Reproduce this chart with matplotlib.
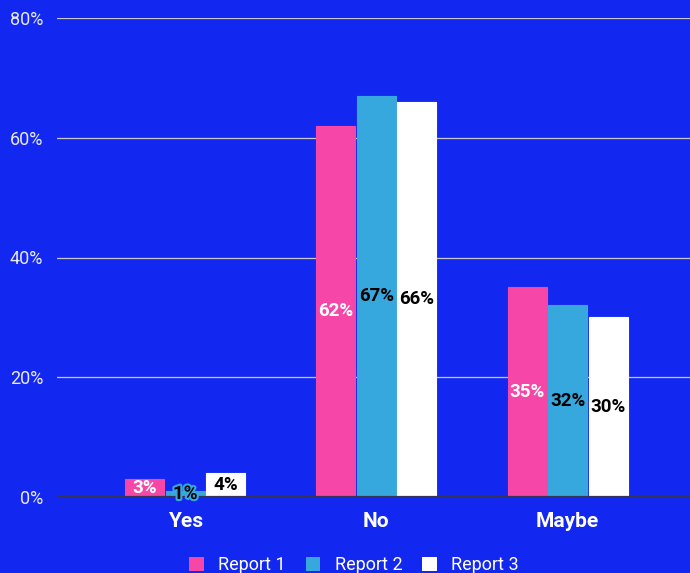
import matplotlib
matplotlib.use("Agg")
import matplotlib.pyplot as plt
import matplotlib.patheffects as pe
import numpy as np

categories = ["Yes", "No", "Maybe"]
series_names = ["Report 1", "Report 2", "Report 3"]
report1 = [3, 62, 35]
report2 = [1, 67, 32]
report3 = [4, 66, 30]
y_ticks = [0, 20, 40, 60, 80]

colors = ["#F646A8", "#37A8DE", "#FFFFFF"]
label_colors = ["white", "black", "black"]
bg = "#1228F0"

plt.rcParams["font.family"] = ["Roboto", "DejaVu Sans"]

fig = plt.figure(figsize=(6.9, 5.73), dpi=100, facecolor=bg)
ax = fig.add_axes([57 / 690, 1 - 497 / 573, 1 - 57 / 690, (497 - 18) / 573])
ax.set_facecolor(bg)

x = np.arange(len(categories))
width = 0.204
series = [report1, report2, report3]
for i, (vals, col, lc, name) in enumerate(zip(series, colors, label_colors, series_names)):
    pos = x + (i - 1) * (width + 0.008)
    bars = ax.bar(pos, vals, width=width, color=col, label=name, zorder=3,
                  edgecolor=col, linewidth=0.8, joinstyle="round")
    for b, v in zip(bars, vals):
        t = ax.text(b.get_x() + b.get_width() / 2, v / 2, f"{v}%", ha="center", va="center",
                    color=lc, fontsize=13.5, fontweight="bold", zorder=5)
        if v < 3:
            t.set_path_effects([pe.withStroke(linewidth=3, foreground=col)])

ax.set_xlim(-0.67, 2.64)
ax.set_ylim(0, 80)
ax.set_yticks(y_ticks)
ax.set_yticklabels([f"{t}%" for t in y_ticks])
ax.grid(axis="y", color="#C8C8C8", linewidth=0.9, zorder=0)
ax.axhline(0, color="#333355", linewidth=1.6, zorder=4)
for s in ax.spines.values():
    s.set_visible(False)
ax.tick_params(axis="y", length=0, pad=10, labelcolor="#E8E8F0", labelsize=13)
ax.tick_params(axis="x", length=0, pad=11, labelcolor="white", labelsize=15)
ax.set_xticks(x)
ax.set_xticklabels(categories, fontweight="bold")

leg = fig.legend(loc="center", bbox_to_anchor=(354 / 690, 1 - 565 / 573), ncol=3,
                 frameon=False, handlelength=0.8, handleheight=0.8, columnspacing=1.1,
                 handletextpad=0.8, fontsize=13, labelcolor="white")
for h in leg.legend_handles:
    h.set_linewidth(0)

fig.savefig("out.png", dpi=100, facecolor=bg)
